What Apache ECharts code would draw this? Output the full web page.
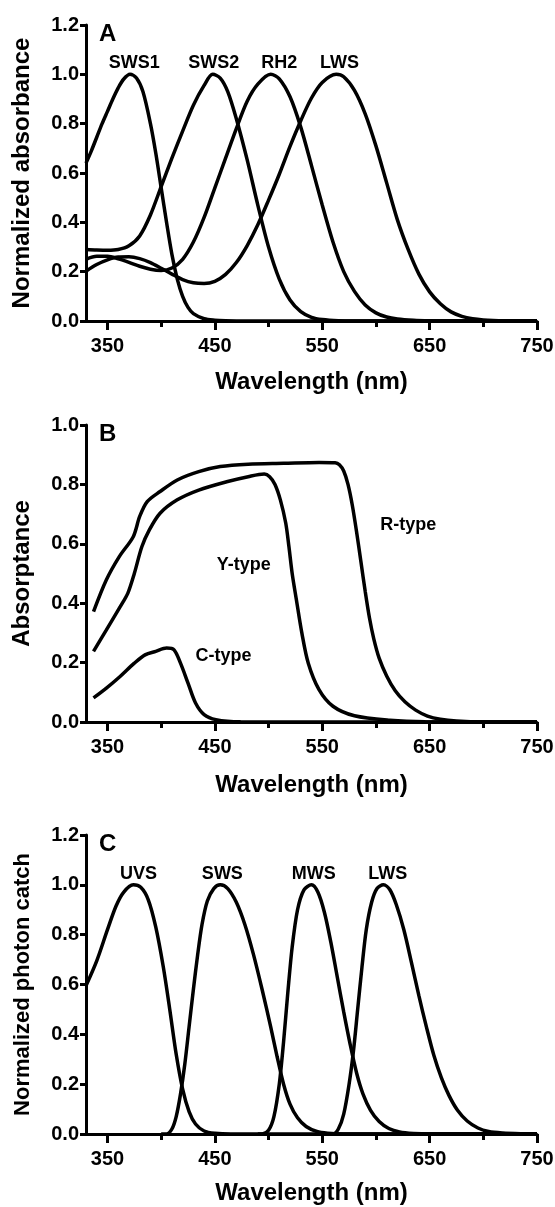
<!DOCTYPE html>
<html>
<head>
<meta charset="utf-8">
<script src="https://cdn.jsdelivr.net/npm/echarts@6/dist/echarts.min.js"></script>
<style>
html,body{margin:0;padding:0;background:#fff;}
#chart{width:555px;height:1207px;}
</style>
</head>
<body>
<div id="chart"></div>
<script>
// ---------- shared axis ticks ----------
const xTickLabels = [350, 450, 550, 650, 750];
const xMajorTicks = [350, 450, 550, 650, 750];
const xMinorTicks = [400, 500, 600, 700];

// ---------- Panel A : normalized absorbance ----------
const aSWS1x = [330,335,340,345,350,355,360,365,371,377,383,390,395,400,405,410,415,420,425,430,440,450,460,480,750];
const aSWS1y = [0.64,0.69,0.745,0.80,0.85,0.90,0.945,0.98,1.0,0.985,0.93,0.80,0.68,0.54,0.40,0.27,0.17,0.10,0.055,0.03,0.009,0.003,0.001,0,0];
const aSWS2x = [330,340,350,360,370,380,390,400,410,420,430,440,448,455,462,470,480,490,500,510,520,530,540,550,565,580,750];
const aSWS2y = [0.29,0.288,0.287,0.29,0.305,0.345,0.43,0.545,0.66,0.77,0.875,0.955,1.0,0.985,0.93,0.82,0.655,0.47,0.30,0.17,0.085,0.038,0.015,0.006,0.001,0,0];
const aRH2x = [330,340,350,360,370,380,390,400,410,420,430,440,450,460,470,480,490,502,510,520,530,540,550,560,570,580,590,600,610,620,635,650,670,750];
const aRH2y = [0.25,0.262,0.262,0.252,0.238,0.222,0.21,0.205,0.215,0.25,0.32,0.42,0.54,0.66,0.78,0.89,0.96,1.0,0.982,0.909,0.786,0.63,0.47,0.32,0.2,0.12,0.065,0.033,0.016,0.008,0.003,0.001,0,0];
const aLWSx = [330,340,350,360,370,380,390,400,410,420,430,440,450,460,470,480,490,500,510,520,530,540,550,563,570,580,590,600,610,620,630,640,650,660,670,680,690,700,720,740,750];
const aLWSy = [0.202,0.229,0.248,0.259,0.26,0.253,0.237,0.214,0.19,0.168,0.155,0.152,0.161,0.189,0.237,0.305,0.39,0.49,0.595,0.708,0.812,0.904,0.967,1.0,0.99,0.935,0.84,0.71,0.56,0.41,0.29,0.19,0.118,0.07,0.037,0.019,0.009,0.0045,0.001,0,0];
const aLabelText = ['SWS1','SWS2','RH2','LWS'];
const aLabelX = [375, 449, 510, 566];
const aLabelY = [1.045, 1.045, 1.045, 1.045];

// ---------- Panel B : absorptance ----------
const bRx = [337,349,361,374,380,387,399,415,435,455,481,514,547,562,566,570,574,578,582,586,590,594,598,603,610,618,627,637,648,660,675,700,750];
const bRy = [0.372,0.479,0.557,0.624,0.692,0.742,0.776,0.815,0.843,0.86,0.868,0.871,0.874,0.873,0.866,0.845,0.80,0.73,0.64,0.54,0.44,0.35,0.28,0.215,0.155,0.105,0.068,0.04,0.02,0.009,0.003,0,0];
const bYx = [337,349,362,369,375,382,389,399,415,435,461,481,496,501,506,511,516,519,522,526,531,537,547,560,580,613,646,750];
const bYy = [0.238,0.31,0.389,0.434,0.50,0.59,0.647,0.703,0.748,0.781,0.809,0.826,0.835,0.826,0.80,0.748,0.67,0.59,0.50,0.41,0.30,0.198,0.109,0.053,0.021,0.006,0.001,0];
const bCx = [337,349,362,375,385,395,405,412,418,425,432,440,451,474,750];
const bCy = [0.081,0.114,0.154,0.198,0.226,0.238,0.249,0.243,0.198,0.131,0.064,0.025,0.008,0.001,0];
const bLabelText = ['R-type','Y-type','C-type'];
const bLabelX = [630, 477, 458];
const bLabelY = [0.664, 0.529, 0.221];

// ---------- Panel C : normalized photon catch ----------
const cUVSx = [330,340,350,358,365,374,381,388,395,402,408,414,420,426,432,440,450,465,750];
const cUVSy = [0.595,0.695,0.82,0.915,0.97,1.0,0.99,0.94,0.83,0.67,0.50,0.32,0.18,0.09,0.04,0.012,0.003,0,0];
const cSWSx = [400,405,410,414,418,422,426,430,434,438,443,449,455,462,470,478,486,494,502,508,514,520,527,535,545,555,570,750];
const cSWSy = [0,0,0.02,0.07,0.16,0.28,0.43,0.58,0.72,0.84,0.935,0.985,1.0,0.985,0.93,0.84,0.72,0.58,0.43,0.31,0.20,0.12,0.065,0.03,0.01,0.003,0,0];
const cMWSx = [490,494,500,505,510,514,518,522,527,533,540,546,552,558,564,570,576,582,588,595,603,612,622,635,650,750];
const cMWSy = [0,0,0.015,0.07,0.2,0.37,0.57,0.75,0.9,0.98,1.0,0.97,0.89,0.77,0.63,0.49,0.36,0.245,0.16,0.095,0.05,0.022,0.008,0.002,0,0];
const cLWSx = [555,560,565,570,575,579,583,587,591,596,601,607,613,619,626,633,640,647,654,661,668,676,685,695,705,718,735,750];
const cLWSy = [0,0,0.02,0.08,0.2,0.33,0.5,0.67,0.82,0.93,0.985,1.0,0.98,0.92,0.82,0.69,0.555,0.43,0.315,0.225,0.155,0.095,0.052,0.024,0.01,0.004,0.001,0];
const cLabelText = ['UVS','SWS','MWS','LWS'];
const cLabelX = [379, 457, 542, 611];
const cLabelY = [1.043, 1.043, 1.043, 1.043];

// ---------- build ----------
const FONT = "'Liberation Sans', Arial, Helvetica, sans-serif";
const zip = (xs, ys) => xs.map((x, i) => [x, ys[i]]);

const panels = [
  { letter:'A', top:25,  height:296, yMax:1.2, yName:'Normalized absorbance', yNameSize:24, xNameGap:49,
    curves:[[aSWS1x,aSWS1y],[aSWS2x,aSWS2y],[aRH2x,aRH2y],[aLWSx,aLWSy]],
    labels:[aLabelText,aLabelX,aLabelY] },
  { letter:'B', top:425, height:297, yMax:1.0, yName:'Absorptance', yNameSize:24, xNameGap:51,
    curves:[[bRx,bRy],[bYx,bYy],[bCx,bCy]],
    labels:[bLabelText,bLabelX,bLabelY] },
  { letter:'C', top:835, height:299, yMax:1.2, yName:'Normalized photon catch', yNameSize:22, xNameGap:47,
    curves:[[cUVSx,cUVSy],[cSWSx,cSWSy],[cMWSx,cMWSy],[cLWSx,cLWSy]],
    labels:[cLabelText,cLabelX,cLabelY] }
];

const grid = [], xAxis = [], yAxis = [], series = [], title = [];
const black = '#000';

panels.forEach((p, i) => {
  grid.push({ left:86, top:p.top, width:451, height:p.height, containLabel:false, outerBoundsMode:'none' });
  title.push({ text:p.letter, left:99, top:p.top - 3, padding:0,
    textStyle:{ fontFamily:FONT, fontSize:24, fontWeight:'bold', color:black } });

  xAxis.push({
    gridIndex:i, type:'value', position:'bottom', min:330, max:750,
    axisLine:{ show:true, onZero:false, lineStyle:{ color:black, width:3 } },
    axisTick:{ show:true, customValues:xMajorTicks, length:9, lineStyle:{ color:black, width:3 } },
    axisLabel:{ show:true, customValues:xTickLabels, margin:15, color:black,
      fontFamily:FONT, fontSize:20, fontWeight:'bold' },
    splitLine:{ show:false },
    name:'Wavelength (nm)', nameLocation:'middle', nameGap:p.xNameGap, nameMoveOverlap:false,
    nameTextStyle:{ fontFamily:FONT, fontSize:24, fontWeight:'bold', color:black }
  });
  xAxis.push({
    gridIndex:i, type:'value', position:'bottom', min:330, max:750,
    axisLine:{ show:false, onZero:false },
    axisTick:{ show:true, customValues:xMinorTicks, length:6, lineStyle:{ color:black, width:3 } },
    axisLabel:{ show:false }, splitLine:{ show:false }
  });
  yAxis.push({
    gridIndex:i, type:'value', min:0, max:p.yMax, interval:0.2,
    axisLine:{ show:true, onZero:false, lineStyle:{ color:black, width:3 } },
    axisTick:{ show:true, length:6, lineStyle:{ color:black, width:3 } },
    axisLabel:{ show:true, margin:7, color:black, fontFamily:FONT, fontSize:20, fontWeight:'bold',
      formatter: v => v.toFixed(1) },
    splitLine:{ show:false },
    name:p.yName, nameLocation:'middle', nameRotate:90, nameGap:52, nameMoveOverlap:false,
    nameTextStyle:{ fontFamily:FONT, fontSize:p.yNameSize, fontWeight:'bold', color:black }
  });

  p.curves.forEach(c => {
    series.push({
      type:'line', xAxisIndex:2 * i, yAxisIndex:i, data:zip(c[0], c[1]),
      showSymbol:false, smooth:0.3, clip:true, silent:true,
      lineStyle:{ color:black, width:3.5 }, z:3
    });
  });

  const [txt, lx, ly] = p.labels;
  series.push({
    type:'scatter', xAxisIndex:2 * i, yAxisIndex:i, symbolSize:0, silent:true,
    itemStyle:{ color:black, opacity:1 },
    data: txt.map((t, k) => ({ name:t, value:[lx[k], ly[k]] })),
    label:{ show:true, position:[0, 0], align:'center', verticalAlign:'middle', opacity:1,
      formatter:'{b}', color:black, textBorderWidth:0, textBorderColor:'transparent',
      fontFamily:FONT, fontSize:18, fontWeight:'bold' }
  });
});

const chart = echarts.init(document.getElementById('chart'), null, { renderer:'canvas' });
chart.setOption({
  animation:false, backgroundColor:'#fff',
  title, grid, xAxis, yAxis, series
});
</script>
</body>
</html>
